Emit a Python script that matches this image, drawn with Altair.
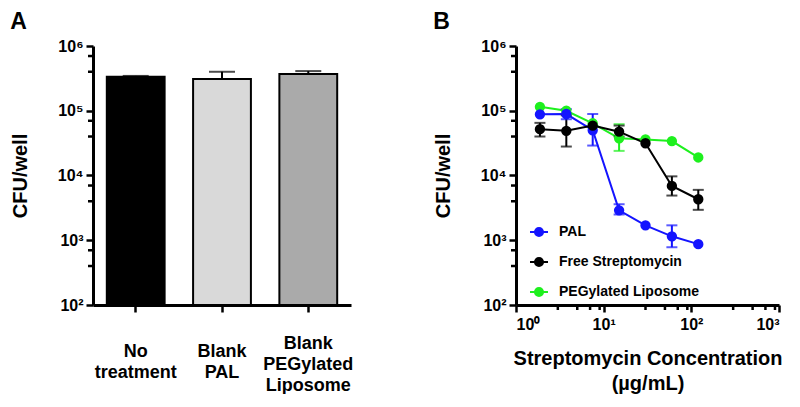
import altair as alt
import pandas as pd

FONT = "Liberation Sans"

# ---------------- Panel A data ----------------
categories = ["No\ntreatment", "Blank\nPAL", "Blank\nPEGylated\nLiposome"]
bar_values = [3.35e5, 3.1e5, 3.7e5]
bar_err_hi = [3.45e5, 4.0e5, 4.1e5]
bar_fills = ["#000000", "#d9d9d9", "#aaaaaa"]

# ---------------- Panel B data ----------------
conc = [1.875, 3.75, 7.5, 15, 30, 60, 120]
series_names = ["PAL", "Free Streptomycin", "PEGylated Liposome"]
series_colors = ["#1414ff", "#000000", "#1ef01e"]

pal_vals = [8.8e4, 8.9e4, 5.0e4, 2.9e3, 1.7e3, 1.15e3, 8.7e2]
pal_lo = [None, 7.4e4, 2.9e4, 2.5e3, None, 7.8e2, None]
pal_hi = [None, 1.06e5, 8.9e4, 3.6e3, None, 1.7e3, None]

free_vals = [5.2e4, 4.9e4, 5.9e4, 4.75e4, 3.15e4, 6.9e3, 4.3e3]
free_lo = [4.0e4, 2.8e4, None, 4.0e4, None, 4.9e3, 2.95e3]
free_hi = [6.5e4, 8.5e4, None, 5.9e4, None, 9.7e3, 6.0e3]

peg_vals = [1.15e5, 1.0e5, 6.4e4, 3.75e4, 3.6e4, 3.4e4, 1.9e4]
peg_lo = [None, None, None, 2.4e4, None, None, None]
peg_hi = [None, None, None, 6.2e4, None, None, None]

# tick values
y_major = [1e2, 1e3, 1e4, 1e5, 1e6]
y_minor = [4e2, 7e2, 4e3, 7e3, 4e4, 7e4, 4e5, 7e5]
x_major = [1, 10, 100, 1000]
x_minor = [3, 5, 7, 9, 30, 50, 70, 90, 300, 500, 700, 900]

SUP = "'10' + ['\u2070','\u00b9','\u00b2','\u00b3','\u2074','\u2075','\u2076'][round(log(datum.value)/LN10)]"

yscale = alt.Scale(type="log", domain=[100, 1e6])
yaxis = alt.Axis(values=y_major, labelExpr=SUP, labelPadding=3, titlePadding=27,
                 title="CFU/well")

# ---------------- Panel A ----------------
a_df = pd.DataFrame({"cat": categories, "val": bar_values, "hi": bar_err_hi})
xaxisA = alt.Axis(labelExpr="split(datum.label, '\\n')", labelAngle=0, labelAlign="center",
                  labelFontSize=18, labelBaseline="middle", labelLineHeight=21,
                  labelPadding={"condition": {"test": "indexof(datum.value, 'Liposome') >= 0",
                                              "value": 31}, "value": 39},
                  tickSize=7, title=None)
xA = alt.X("cat:N", sort=categories,
           scale=alt.Scale(paddingInner=0.33, paddingOuter=0.16), axis=xaxisA)

bars = alt.Chart(a_df).mark_bar(stroke="black", strokeWidth=2).encode(
    x=xA,
    y=alt.Y("val:Q", scale=yscale, axis=yaxis),
    y2=alt.datum(100),
    fill=alt.Fill("cat:N", scale=alt.Scale(domain=categories, range=bar_fills), legend=None),
)
errA = alt.Chart(a_df).mark_rule(color="black", strokeWidth=2).encode(
    x=xA, y=alt.Y("val:Q", scale=yscale, axis=yaxis), y2="hi:Q")
capA = alt.Chart(a_df).mark_tick(color="black", thickness=2, size=26, orient="horizontal").encode(
    x=xA, y=alt.Y("hi:Q", scale=yscale, axis=yaxis))
minA = alt.Chart(pd.DataFrame({"val": y_minor})).mark_rule(color="black", strokeWidth=2.5).encode(
    y=alt.Y("val:Q", scale=yscale, axis=yaxis), x=alt.value(-5), x2=alt.value(0))

panelA = alt.layer(errA, bars, capA, minA).properties(
    width=258, height=259,
    title=alt.TitleParams("A", anchor="start", fontSize=23, fontWeight="bold", font=FONT, offset=4),
)

# ---------------- Panel B ----------------
rows, erows = [], []
for name, vals, lo, hi in [("PEGylated Liposome", peg_vals, peg_lo, peg_hi),
                           ("PAL", pal_vals, pal_lo, pal_hi),
                           ("Free Streptomycin", free_vals, free_lo, free_hi)]:
    for c, v, l, h in zip(conc, vals, lo, hi):
        rows.append({"series": name, "conc": c, "val": v})
        if l is not None:
            erows.append({"series": name, "conc": c, "lo": l, "hi": h})
b_df = pd.DataFrame(rows)
e_df = pd.DataFrame(erows)

sc = alt.Scale(domain=series_names, range=series_colors)
xscale = alt.Scale(type="log", domain=[1, 1000])
xaxisB = alt.Axis(values=x_major, labelExpr=SUP, labelFontSize=16, labelPadding=4,
                  titlePadding=16, titleLineHeight=25,
                  title=["Streptomycin Concentration", "(\u00b5g/mL)"])
xB = alt.X("conc:Q", scale=xscale, axis=xaxisB)

symbol_path = "M-1,0L1,0M0.45,0A0.45,0.45,0,1,1,-0.45,0A0.45,0.45,0,1,1,0.45,0Z"
leg = alt.Legend(orient="none", legendX=13, legendY=176, title=None, padding=0,
                 symbolType=symbol_path, symbolSize=324, symbolStrokeWidth=2,
                 labelFont=FONT, labelFontSize=14, labelFontWeight="bold", labelColor="black",
                 labelOffset=10, rowPadding=11)

lineB = alt.Chart(b_df).mark_line(strokeWidth=2).encode(
    x=xB, y=alt.Y("val:Q", scale=yscale, axis=yaxis),
    stroke=alt.Stroke("series:N", scale=sc, legend=leg),
    detail="series:N")
errB = alt.Chart(e_df).mark_rule(strokeWidth=2).encode(
    x=xB, y=alt.Y("lo:Q", scale=yscale, axis=yaxis), y2="hi:Q",
    stroke=alt.Stroke("series:N", scale=sc, legend=leg))
capLo = alt.Chart(e_df).mark_tick(thickness=2, size=11, orient="horizontal").encode(
    x=xB, y=alt.Y("lo:Q", scale=yscale, axis=yaxis),
    color=alt.Color("series:N", scale=sc, legend=None))
capHi = alt.Chart(e_df).mark_tick(thickness=2, size=11, orient="horizontal").encode(
    x=xB, y=alt.Y("hi:Q", scale=yscale, axis=yaxis),
    color=alt.Color("series:N", scale=sc, legend=None))
ptsB = alt.Chart(b_df).mark_point(filled=True, size=70, opacity=1).encode(
    x=xB, y=alt.Y("val:Q", scale=yscale, axis=yaxis),
    fill=alt.Fill("series:N", scale=sc, legend=leg),
    stroke=alt.Stroke("series:N", scale=sc, legend=leg))
minBy = alt.Chart(pd.DataFrame({"val": y_minor})).mark_rule(color="black", strokeWidth=2.5).encode(
    y=alt.Y("val:Q", scale=yscale, axis=yaxis), x=alt.value(-5), x2=alt.value(0))
minBx = alt.Chart(pd.DataFrame({"conc": x_minor})).mark_rule(color="black", strokeWidth=2.5).encode(
    x=xB, y=alt.value(259), y2=alt.value(264))

panelB = alt.layer(lineB, errB, capLo, capHi, ptsB, minBy, minBx).properties(
    width=263, height=259,
    title=alt.TitleParams("B", anchor="start", fontSize=23, fontWeight="bold", font=FONT, offset=4),
)

chart = alt.hconcat(panelA, panelB, spacing=80).resolve_scale(
    fill="independent", stroke="independent", color="independent",
    x="independent", y="independent",
).properties(
    padding={"left": 2, "top": 3, "right": 0, "bottom": 0}
).configure_view(stroke=None).configure_axis(
    grid=False, domainColor="black", domainWidth=3, tickColor="black", tickWidth=2.5,
    tickSize=7, labelFont=FONT, labelFontWeight="bold", labelFontSize=16, labelColor="black",
    titleFont=FONT, titleFontWeight="bold", titleFontSize=20, titleColor="black",
)

chart.save("out.html", embed_options={"renderer": "svg", "actions": False})
